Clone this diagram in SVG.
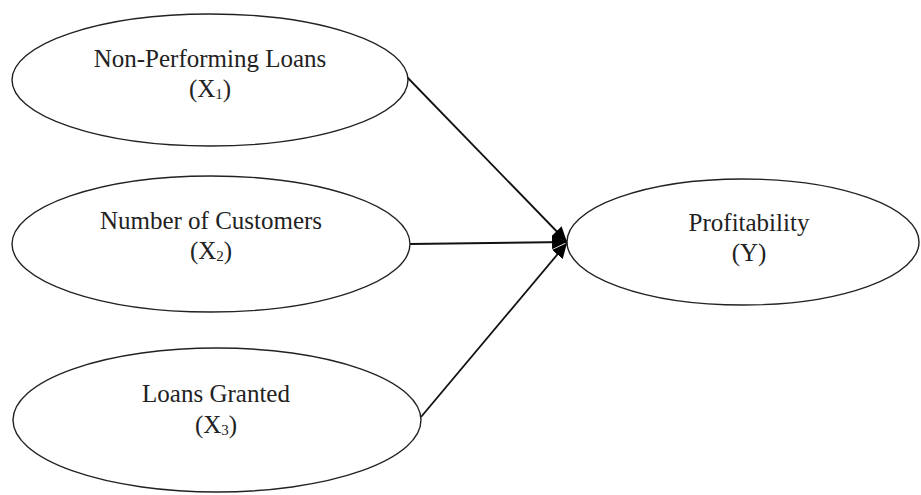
<svg xmlns="http://www.w3.org/2000/svg" width="921" height="495" viewBox="0 0 921 495">
<style>
.node ellipse{fill:#fff;stroke:#222;stroke-width:1.4}
.node text{font-family:"Liberation Serif","Times New Roman",serif;font-size:25px;fill:#222;text-anchor:middle}
.sub{font-size:15px}
.edges line{stroke:#111;stroke-width:1.8}
</style>
<defs>
<marker id="arr" markerUnits="userSpaceOnUse" markerWidth="16" markerHeight="14" refX="15" refY="7" orient="auto">
<path d="M0,0 L15,7 L0,14 Z" fill="#000"/>
</marker>
</defs>
<rect width="921" height="495" fill="#fff"/>
<g class="edges">
<line x1="407" y1="77" x2="567" y2="242" marker-end="url(#arr)"/>
<line x1="410" y1="244" x2="567" y2="242" marker-end="url(#arr)"/>
<line x1="421" y1="417" x2="567" y2="243" marker-end="url(#arr)"/>
</g>
<g id="x1" class="node">
<ellipse cx="210" cy="80" rx="198" ry="66"/>
<text x="210" y="67">Non-Performing Loans</text>
<text x="210" y="97">(X<tspan class="sub" dy="2">1</tspan><tspan dy="-2">)</tspan></text>
</g>
<g id="x2" class="node">
<ellipse cx="211" cy="244" rx="199" ry="68"/>
<text x="211" y="229">Number of Customers</text>
<text x="211" y="259">(X<tspan class="sub" dy="2">2</tspan><tspan dy="-2">)</tspan></text>
</g>
<g id="x3" class="node">
<ellipse cx="217" cy="420" rx="204" ry="72"/>
<text x="216" y="402">Loans Granted</text>
<text x="216" y="433">(X<tspan class="sub" dy="2">3</tspan><tspan dy="-2">)</tspan></text>
</g>
<g id="y" class="node">
<ellipse cx="743" cy="242" rx="176" ry="63"/>
<text x="749" y="231">Profitability</text>
<text x="749" y="261">(Y)</text>
</g>
</svg>
